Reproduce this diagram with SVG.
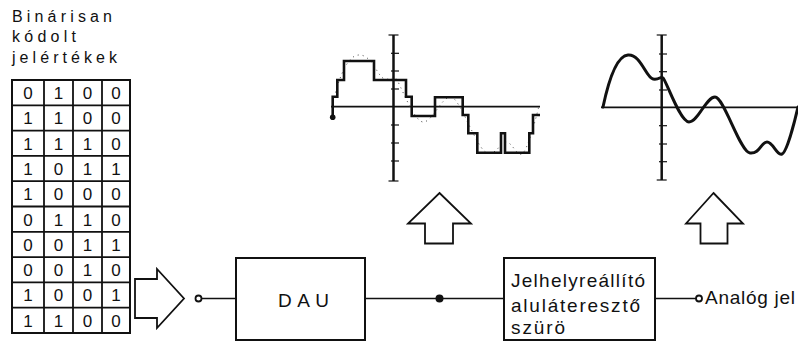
<svg xmlns="http://www.w3.org/2000/svg" width="798" height="343" viewBox="0 0 798 343">
<style>
.t{font-family:"Liberation Sans","DejaVu Sans",sans-serif;fill:#111}
.ln{stroke:#111;fill:none}
.box{stroke:#111;stroke-width:2;fill:#fff}
.dig{font-family:"Liberation Sans","DejaVu Sans",sans-serif;font-size:17px;fill:#111;text-anchor:middle}
.ax{stroke:#111;stroke-width:2.5;fill:none}
.tick{stroke:#111;stroke-width:1.2}
</style>
<rect width="798" height="343" fill="#fff"/>

<g id="caption">
<text class="t" x="12" y="22" font-size="16" textLength="100" lengthAdjust="spacing">Binárisan</text>
<text class="t" x="12" y="42" font-size="16" textLength="64" lengthAdjust="spacing">kódolt</text>
<text class="t" x="12" y="63" font-size="16" textLength="105" lengthAdjust="spacing">jelértékek</text>
</g>

<g id="table">
<rect x="12" y="80" width="118" height="253" class="ln" stroke-width="2"/>
<g class="ln" stroke-width="1.8">
<line x1="44" y1="80" x2="44" y2="333"/>
<line x1="73" y1="80" x2="73" y2="333"/>
<line x1="102" y1="80" x2="102" y2="333"/>
<line x1="12" y1="105.3" x2="130" y2="105.3"/>
<line x1="12" y1="130.6" x2="130" y2="130.6"/>
<line x1="12" y1="155.9" x2="130" y2="155.9"/>
<line x1="12" y1="181.2" x2="130" y2="181.2"/>
<line x1="12" y1="206.5" x2="130" y2="206.5"/>
<line x1="12" y1="231.8" x2="130" y2="231.8"/>
<line x1="12" y1="257.1" x2="130" y2="257.1"/>
<line x1="12" y1="282.4" x2="130" y2="282.4"/>
<line x1="12" y1="307.7" x2="130" y2="307.7"/>
</g>
<g>
<text class="dig" x="28" y="99">0</text><text class="dig" x="58.5" y="99">1</text><text class="dig" x="87.5" y="99">0</text><text class="dig" x="116" y="99">0</text>
<text class="dig" x="28" y="124.3">1</text><text class="dig" x="58.5" y="124.3">1</text><text class="dig" x="87.5" y="124.3">0</text><text class="dig" x="116" y="124.3">0</text>
<text class="dig" x="28" y="149.6">1</text><text class="dig" x="58.5" y="149.6">1</text><text class="dig" x="87.5" y="149.6">1</text><text class="dig" x="116" y="149.6">0</text>
<text class="dig" x="28" y="174.9">1</text><text class="dig" x="58.5" y="174.9">0</text><text class="dig" x="87.5" y="174.9">1</text><text class="dig" x="116" y="174.9">1</text>
<text class="dig" x="28" y="200.2">1</text><text class="dig" x="58.5" y="200.2">0</text><text class="dig" x="87.5" y="200.2">0</text><text class="dig" x="116" y="200.2">0</text>
<text class="dig" x="28" y="225.5">0</text><text class="dig" x="58.5" y="225.5">1</text><text class="dig" x="87.5" y="225.5">1</text><text class="dig" x="116" y="225.5">0</text>
<text class="dig" x="28" y="250.8">0</text><text class="dig" x="58.5" y="250.8">0</text><text class="dig" x="87.5" y="250.8">1</text><text class="dig" x="116" y="250.8">1</text>
<text class="dig" x="28" y="276.1">0</text><text class="dig" x="58.5" y="276.1">0</text><text class="dig" x="87.5" y="276.1">1</text><text class="dig" x="116" y="276.1">0</text>
<text class="dig" x="28" y="301.4">1</text><text class="dig" x="58.5" y="301.4">0</text><text class="dig" x="87.5" y="301.4">0</text><text class="dig" x="116" y="301.4">1</text>
<text class="dig" x="28" y="326.7">1</text><text class="dig" x="58.5" y="326.7">1</text><text class="dig" x="87.5" y="326.7">0</text><text class="dig" x="116" y="326.7">0</text>
</g>
</g>

<g id="input-arrow">
<polygon points="135,279 157,279 157,269 184,298.5 157,328 157,318 135,318" class="ln" stroke-width="1.8" stroke-linejoin="miter"/>
</g>

<g id="connectors" class="ln" stroke-width="1.5">
<line x1="201.5" y1="298.5" x2="236" y2="298.5"/>
<line x1="365" y1="298.5" x2="504" y2="298.5"/>
<line x1="655" y1="298.5" x2="696" y2="298.5"/>
<circle cx="198.5" cy="298.5" r="3" fill="#fff" stroke-width="1.8"/>
<circle cx="439.5" cy="298.5" r="4" fill="#111" stroke="none"/>
<circle cx="699" cy="298.5" r="3" fill="#fff" stroke-width="1.8"/>
</g>

<g id="dau">
<rect x="236" y="258" width="129" height="82" class="box"/>
<text class="t" x="278" y="307" font-size="19" textLength="51" lengthAdjust="spacing">DAU</text>
</g>

<g id="filter">
<rect x="504" y="258" width="151" height="82" class="box"/>
<text class="t" x="511" y="287" font-size="19" textLength="134" lengthAdjust="spacing">Jelhelyreállító</text>
<text class="t" x="511" y="312" font-size="19" textLength="129" lengthAdjust="spacing">aluláteresztő</text>
<text class="t" x="511" y="334" font-size="19" textLength="54" lengthAdjust="spacing">szürö</text>
</g>

<g id="output-label">
<text class="t" x="705" y="304" font-size="19" textLength="90" lengthAdjust="spacing">Analóg jel</text>
</g>

<g id="up-arrow-1">
<polygon points="439.5,193 471,223.5 453,223.5 453,243.5 425,243.5 425,223.5 408,223.5" class="ln" stroke-width="1.8"/>
</g>
<g id="up-arrow-2">
<polygon points="713.5,193 743,223.5 727.5,223.5 727.5,243.5 700.5,243.5 700.5,223.5 686,223.5" class="ln" stroke-width="1.8"/>
</g>

<g id="staircase-graph">
<line x1="331" y1="106.7" x2="540" y2="106.7" class="ln" stroke-width="1.8"/>
<line x1="393.5" y1="35" x2="393.5" y2="181" class="ax"/>
<line x1="388.5" y1="35" x2="398.5" y2="35" class="tick" stroke-width="2"/>
<line x1="388.5" y1="181" x2="398.5" y2="181" class="tick" stroke-width="2"/>
<g class="tick">
<line x1="391" y1="53.3" x2="399" y2="53.3"/>
<line x1="391" y1="71" x2="399" y2="71"/>
<line x1="391" y1="89" x2="399" y2="89"/>
<line x1="391" y1="125" x2="399" y2="125"/>
<line x1="391" y1="143" x2="399" y2="143"/>
<line x1="391" y1="161" x2="399" y2="161"/>
</g>
<path d="M603,107 C607,88 615,56 628,55 S646,78 653,79 S660,76 663,78 S680,122 689,122 S706,97 715,97 S740,152 750,153 S761,142 767,142 S777,156 782,154 S795,120 798,107" transform="translate(332,0) scale(1.06,1) translate(-603,0)" fill="none" stroke="#444" stroke-width="1" stroke-dasharray="1 4" vector-effect="non-scaling-stroke"/>
<path d="M332.7,117.3 V96.7 H337.3 V80 H344 V61 H374 V80 H406 V96.7 H411.7 V116 H435 V97.3 H462.7 V115 H468.3 V133.3 H477.3 V152.7 H501 V133.3 H505 V152.7 H529.3 V133.3 H533 V115 H540" fill="none" stroke="#111" stroke-width="2.6" stroke-linejoin="miter"/>
<circle cx="332.7" cy="117.3" r="2.8" fill="#111"/>
</g>

<g id="analog-graph">
<line x1="601" y1="107.3" x2="798" y2="107.3" class="ln" stroke-width="1.8"/>
<line x1="661.7" y1="35" x2="661.7" y2="180" class="ax"/>
<line x1="656.7" y1="35" x2="666.7" y2="35" class="tick" stroke-width="2"/>
<line x1="656.7" y1="180" x2="666.7" y2="180" class="tick" stroke-width="2"/>
<g class="tick">
<line x1="659" y1="54" x2="667" y2="54"/>
<line x1="659" y1="71.7" x2="667" y2="71.7"/>
<line x1="659" y1="90" x2="667" y2="90"/>
<line x1="659" y1="125.7" x2="667" y2="125.7"/>
<line x1="659" y1="144" x2="667" y2="144"/>
<line x1="659" y1="161.7" x2="667" y2="161.7"/>
</g>
<path d="M603,107 C607,88 615,56 628,55 S646,78 653,79 S660,76 663,78 S680,122 689,122 S706,97 715,97 S740,152 750,153 S761,142 767,142 S777,156 782,154 S795,120 798,107" fill="none" stroke="#111" stroke-width="3" stroke-linecap="round"/>
</g>
</svg>
